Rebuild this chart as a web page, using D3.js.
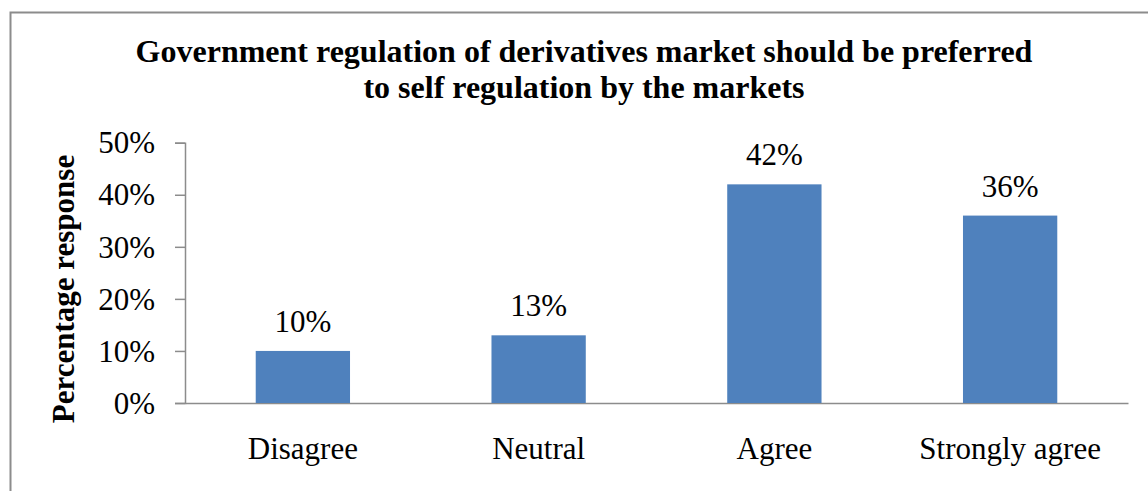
<!DOCTYPE html>
<html>
<head>
<meta charset="utf-8">
<script src="https://cdn.jsdelivr.net/npm/d3@7"></script>
<style>
  html, body { margin: 0; padding: 0; background: #fff; overflow: hidden; }
  svg { display: block; }
</style>
</head>
<body>
<svg id="chart" width="1148" height="491"></svg>
<script>
// Survey responses (percent of respondents)
const categories = ["Disagree", "Neutral", "Agree", "Strongly agree"];
const responses = [10, 13, 42, 36];
const yTicks = [0, 10, 20, 30, 40, 50];
const titleLines = [
  "Government regulation of derivatives market should be preferred",
  "to self regulation by the markets"
];
const yAxisTitle = "Percentage response";

const svg = d3.select("#chart");
const serif = "'Liberation Serif', 'Times New Roman', serif";

// Chart frame
svg.append("rect")
  .attr("x", 10.5).attr("y", 12.5)
  .attr("width", 1160).attr("height", 500)
  .attr("fill", "#fff")
  .attr("stroke", "#8c8c8c")
  .attr("stroke-width", 2);

const plot = { left: 185, right: 1128, top: 142.7, bottom: 403 };

const x = d3.scaleBand()
  .domain(categories)
  .range([plot.left, plot.right])
  .paddingInner(0.6)
  .paddingOuter(0.3);

const y = d3.scaleLinear()
  .domain([0, 50])
  .range([plot.bottom, plot.top]);

// Title
svg.append("text")
  .attr("x", 584)
  .attr("y", 62)
  .attr("text-anchor", "middle")
  .attr("font-family", serif)
  .attr("font-weight", "bold")
  .attr("font-size", 32)
  .attr("fill", "#000")
  .selectAll("tspan")
  .data(titleLines)
  .join("tspan")
  .attr("x", 584)
  .attr("dy", (d, i) => i === 0 ? 0 : 36)
  .text(d => d);

// Y axis
const yAxis = svg.append("g")
  .attr("transform", `translate(${plot.left},0)`)
  .call(d3.axisLeft(y).tickValues(yTicks).tickFormat(d => d + "%").tickSize(10).tickPadding(20));
yAxis.select(".domain").attr("stroke", "#8c8c8c").attr("stroke-width", 1.5);
yAxis.selectAll(".tick line").attr("stroke", "#8c8c8c").attr("stroke-width", 1.5);
yAxis.selectAll(".tick text")
  .attr("font-family", serif)
  .attr("font-size", 31)
  .attr("fill", "#000")
  .attr("dy", "0.33em");

// X axis (baseline only, no ticks)
const xAxis = svg.append("g")
  .attr("transform", `translate(0,${plot.bottom})`)
  .call(d3.axisBottom(x).tickSize(0).tickPadding(34));
xAxis.select(".domain").attr("stroke", "#8c8c8c").attr("stroke-width", 1.5);
xAxis.selectAll(".tick text")
  .attr("font-family", serif)
  .attr("font-size", 31)
  .attr("fill", "#000");

// Bars
svg.append("g")
  .selectAll("rect")
  .data(responses)
  .join("rect")
  .attr("x", (d, i) => x(categories[i]))
  .attr("y", d => y(d))
  .attr("width", x.bandwidth())
  .attr("height", d => y(0) - y(d))
  .attr("fill", "#4f81bd");

// Value labels
svg.append("g")
  .selectAll("text")
  .data(responses)
  .join("text")
  .attr("x", (d, i) => x(categories[i]) + x.bandwidth() / 2)
  .attr("y", d => y(d) - 19)
  .attr("text-anchor", "middle")
  .attr("font-family", serif)
  .attr("font-size", 31)
  .attr("fill", "#000")
  .text(d => d + "%");

// Y axis title
svg.append("text")
  .attr("transform", "translate(74,289) rotate(-90)")
  .attr("text-anchor", "middle")
  .attr("font-family", serif)
  .attr("font-weight", "bold")
  .attr("font-size", 31)
  .attr("fill", "#000")
  .text(yAxisTitle);
</script>
</body>
</html>
